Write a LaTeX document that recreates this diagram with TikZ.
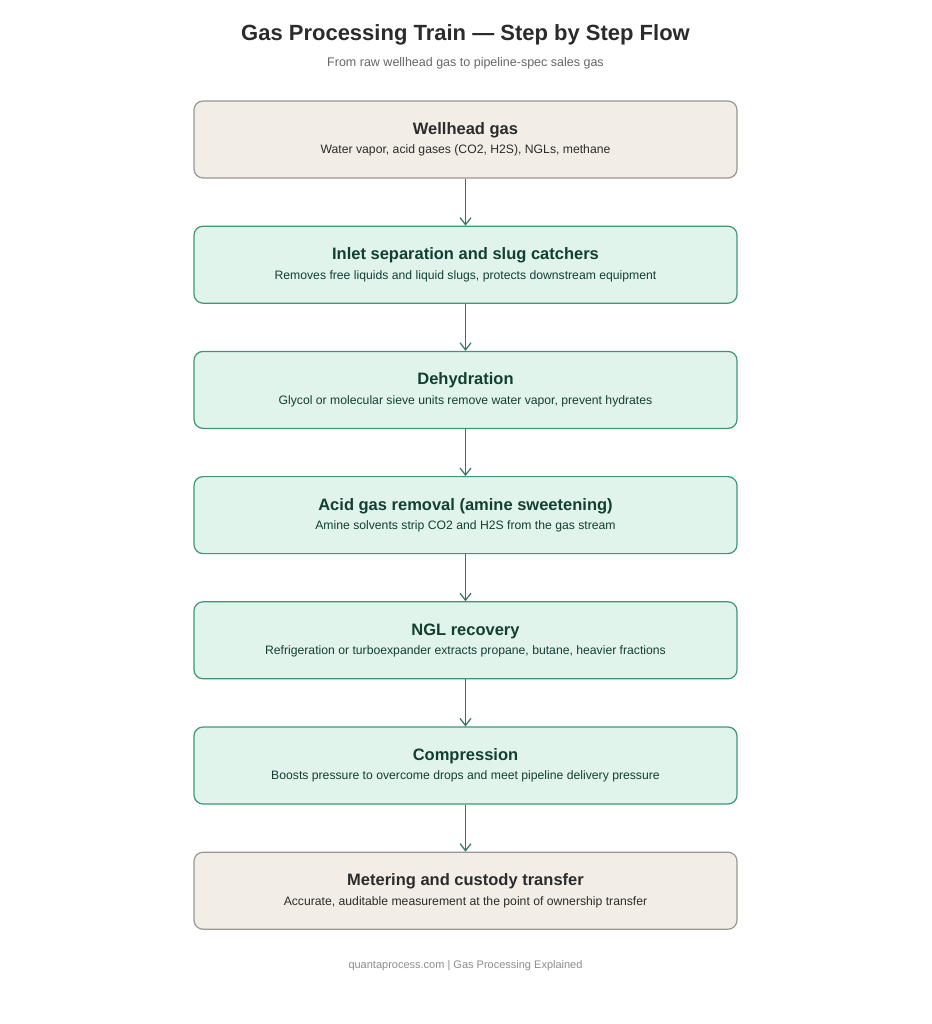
\documentclass[tikz,border=0pt]{standalone}
\usepackage{fontspec}
\setmainfont{Liberation Sans}
\usetikzlibrary{arrows.meta, positioning}
\definecolor{sandfill}{HTML}{F2EEE7}
\definecolor{sanddraw}{HTML}{9A9790}
\definecolor{sandtext}{HTML}{2B2B2B}
\definecolor{stepfill}{HTML}{E1F4EC}
\definecolor{stepdraw}{HTML}{3F9676}
\definecolor{steptext}{HTML}{123F32}
\definecolor{flowline}{HTML}{2F7560}
\newcommand{\stagetext}[2]{{\fontsize{16.5}{20}\selectfont\bfseries #1}\\[6pt]{\fontsize{12.2}{15}\selectfont #2}}

\begin{document}
\begin{tikzpicture}[
    x=1pt, y=-1pt,
    stage/.style={rectangle, rounded corners=9pt, draw=stepdraw, fill=stepfill, line width=1.2pt, minimum width=543pt, minimum height=77pt, text=steptext, align=center},
    endstage/.style={stage, draw=sanddraw, fill=sandfill, text=sandtext},
    arrow/.style={-{Straight Barb[length=7pt, width=11pt]}, draw=flowline, line width=1.2pt},
    node distance=47pt
]
\useasboundingbox (0,0) rectangle (931,1024);

% Heading
\node[font=\fontsize{22}{26}\selectfont\bfseries, text=sandtext] (title) at (465.5,35) {Gas Processing Train — Step by Step Flow};
\node[font=\fontsize{12.5}{15}\selectfont, text=black!60] (subtitle) at (465.5,63) {From raw wellhead gas to pipeline-spec sales gas};

% Stages
\node[endstage] (well) at (465.5,139.5) {\stagetext{Wellhead gas}{Water vapor, acid gases (CO2, H2S), NGLs, methane}};
\node[stage, below=of well] (inlet) {\stagetext{Inlet separation and slug catchers}{Removes free liquids and liquid slugs, protects downstream equipment}};
\node[stage, below=of inlet] (dehy) {\stagetext{Dehydration}{Glycol or molecular sieve units remove water vapor, prevent hydrates}};
\node[stage, below=of dehy] (amine) {\stagetext{Acid gas removal (amine sweetening)}{Amine solvents strip CO2 and H2S from the gas stream}};
\node[stage, below=of amine] (ngl) {\stagetext{NGL recovery}{Refrigeration or turboexpander extracts propane, butane, heavier fractions}};
\node[stage, below=of ngl] (comp) {\stagetext{Compression}{Boosts pressure to overcome drops and meet pipeline delivery pressure}};
\node[endstage, below=of comp] (meter) {\stagetext{Metering and custody transfer}{Accurate, auditable measurement at the point of ownership transfer}};

% Arrows
\foreach \a/\b in {well/inlet, inlet/dehy, dehy/amine, amine/ngl, ngl/comp, comp/meter}
    \draw[arrow] (\a) -- (\b);

% Footer
\node[font=\fontsize{11}{13}\selectfont, text=black!45] (footer) at (465.5,966) {quantaprocess.com | Gas Processing Explained};

\end{tikzpicture}
\end{document}
